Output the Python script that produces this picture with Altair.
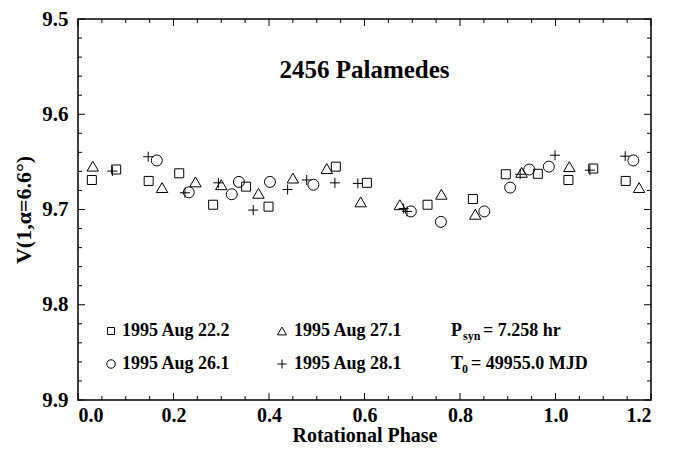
import altair as alt
import pandas as pd

# Rotational phase and reduced magnitude for each night
sq_phase = [0.029, 0.080, 0.148, 0.212, 0.283, 0.352, 0.399, 0.540, 0.605, 0.732,
            0.827, 0.896, 0.963, 1.027, 1.079, 1.147]
sq_mag = [9.669, 9.658, 9.670, 9.662, 9.695, 9.676, 9.697, 9.655, 9.672, 9.695,
          9.689, 9.663, 9.6625, 9.669, 9.657, 9.670]

ci_phase = [0.165, 0.232, 0.322, 0.337, 0.402, 0.493, 0.697, 0.760, 0.851, 0.905,
            0.945, 0.986, 1.163]
ci_mag = [9.6485, 9.682, 9.684, 9.671, 9.671, 9.674, 9.702, 9.713, 9.702, 9.677,
          9.658, 9.655, 9.6485]

tr_phase = [0.031, 0.176, 0.246, 0.300, 0.378, 0.450, 0.521, 0.592, 0.674, 0.761,
            0.832, 0.929, 1.029, 1.175]
tr_mag = [9.6545, 9.677, 9.671, 9.674, 9.683, 9.667, 9.657, 9.692, 9.695, 9.684,
          9.705, 9.661, 9.655, 9.677]

pl_phase = [0.072, 0.147, 0.224, 0.294, 0.367, 0.439, 0.479, 0.538, 0.586, 0.682,
            0.689, 0.926, 0.999, 1.072, 1.146]
pl_mag = [9.6597, 9.6446, 9.6824, 9.672, 9.7006, 9.679, 9.669, 9.672, 9.6726, 9.699,
          9.702, 9.663, 9.643, 9.6587, 9.644]

nights = ["1995 Aug 22.2", "1995 Aug 26.1", "1995 Aug 27.1", "1995 Aug 28.1"]

x_major = [0.0, 0.2, 0.4, 0.6, 0.8, 1.0, 1.2]
x_minor = [0.05, 0.1, 0.15, 0.25, 0.3, 0.35, 0.45, 0.5, 0.55, 0.65, 0.7, 0.75,
           0.85, 0.9, 0.95, 1.05, 1.1, 1.15]
y_major = [9.5, 9.6, 9.7, 9.8, 9.9]
y_minor = [9.52, 9.54, 9.56, 9.58, 9.62, 9.64, 9.66, 9.68, 9.72, 9.74, 9.76, 9.78,
           9.82, 9.84, 9.86, 9.88]

W, H = 573, 381
FONT = "Liberation Serif"
PLUS = "M-1,0L1,0M0,-1L0,1"

xs = alt.Scale(domain=[0.0, 1.2], nice=False, zero=False)
ys = alt.Scale(domain=[9.5, 9.9], nice=False, zero=False, reverse=True)

x_axis = alt.Axis(values=x_major, format=".1f", ticks=False, domain=False, grid=False,
                  title="Rotational Phase", labelPadding=5, titlePadding=0,
                  labelFontSize=20, titleFontSize=20)
y_axis = alt.Axis(values=y_major, format=".1f", ticks=False, domain=False, grid=False,
                  title="V(1,\u03b1=6.6\u00b0)", labelPadding=10, titlePadding=6,
                  labelFontSize=21, titleFontSize=22)


def points(phase, mag, shape, size):
    df = pd.DataFrame({"phase": phase, "mag": mag})
    return alt.Chart(df).mark_point(shape=shape, size=size, filled=False,
                                    color="black", strokeWidth=1, opacity=1).encode(
        x=alt.X("phase:Q", scale=xs, axis=x_axis),
        y=alt.Y("mag:Q", scale=ys, axis=y_axis),
    )


def xticks(vals, length, top):
    df = pd.DataFrame({"t": vals})
    y0, y1 = (0, length) if top else (H, H - length)
    return alt.Chart(df).mark_rule(color="black", strokeWidth=1).encode(
        x=alt.X("t:Q", scale=xs), y=alt.value(y0), y2=alt.value(y1))


def yticks(vals, length, right):
    df = pd.DataFrame({"t": vals})
    x0, x1 = (W, W - length) if right else (0, length)
    return alt.Chart(df).mark_rule(color="black", strokeWidth=1).encode(
        y=alt.Y("t:Q", scale=ys), x=alt.value(x0), x2=alt.value(x1))


ticks = [
    xticks(x_major, 7, False), xticks(x_major, 7, True),
    xticks(x_minor, 4, False), xticks(x_minor, 4, True),
    yticks(y_major, 7, False), yticks(y_major, 7, True),
    yticks(y_minor, 4, False), yticks(y_minor, 4, True),
]

series = [
    points(sq_phase, sq_mag, "square", 81),
    points(ci_phase, ci_mag, "circle", 120),
    points(tr_phase, tr_mag, "triangle-up", 130),
    points(pl_phase, pl_mag, PLUS, 100),
]

one = pd.DataFrame({"k": [0]})


def label(text, px, py, size=18, dx=0, dy=0, align="left"):
    return alt.Chart(one).mark_text(text=text, font=FONT, fontWeight="bold",
                                    fontSize=size, color="black", align=align,
                                    baseline="middle", dx=dx, dy=dy).encode(
        x=alt.value(px), y=alt.value(py))


def key(shape, size, px, py):
    return alt.Chart(one).mark_point(shape=shape, size=size, filled=False,
                                     color="black", strokeWidth=1, opacity=1).encode(
        x=alt.value(px), y=alt.value(py))


r1, r2 = 312, 345
c1, c2, c3 = 33, 204, 373
legend = [
    key("square", 49, c1, r1), label(nights[0], c1 + 11, r1),
    key("circle", 72, c1, r2), label(nights[1], c1 + 11, r2),
    key("triangle-up", 81, c2, r1), label(nights[2], c2 + 12, r1),
    key(PLUS, 81, c2, r2), label(nights[3], c2 + 12, r2),
    label("P", c3, r1), label("syn", c3 + 12, r1, size=12, dy=5),
    label("= 7.258 hr", c3 + 32, r1),
    label("T", c3, r2), label("0", c3 + 11, r2, size=12, dy=5),
    label("= 49955.0 MJD", c3 + 20, r2),
    label("2456 Palamedes", W / 2, 51, size=25, align="center"),
]

chart = alt.layer(*ticks, *series, *legend).properties(
    width=W, height=H,
    autosize=alt.AutoSizeParams(type="none"),
    padding={"left": 78, "top": 19, "right": 27, "bottom": 49},
).configure_view(
    stroke="black", strokeWidth=1.5
).configure_axis(
    labelFont=FONT, labelFontWeight="bold", labelColor="black",
    titleFont=FONT, titleFontWeight="bold", titleColor="black",
)

chart.save("out.html", embed_options={"renderer": "svg", "actions": False})
